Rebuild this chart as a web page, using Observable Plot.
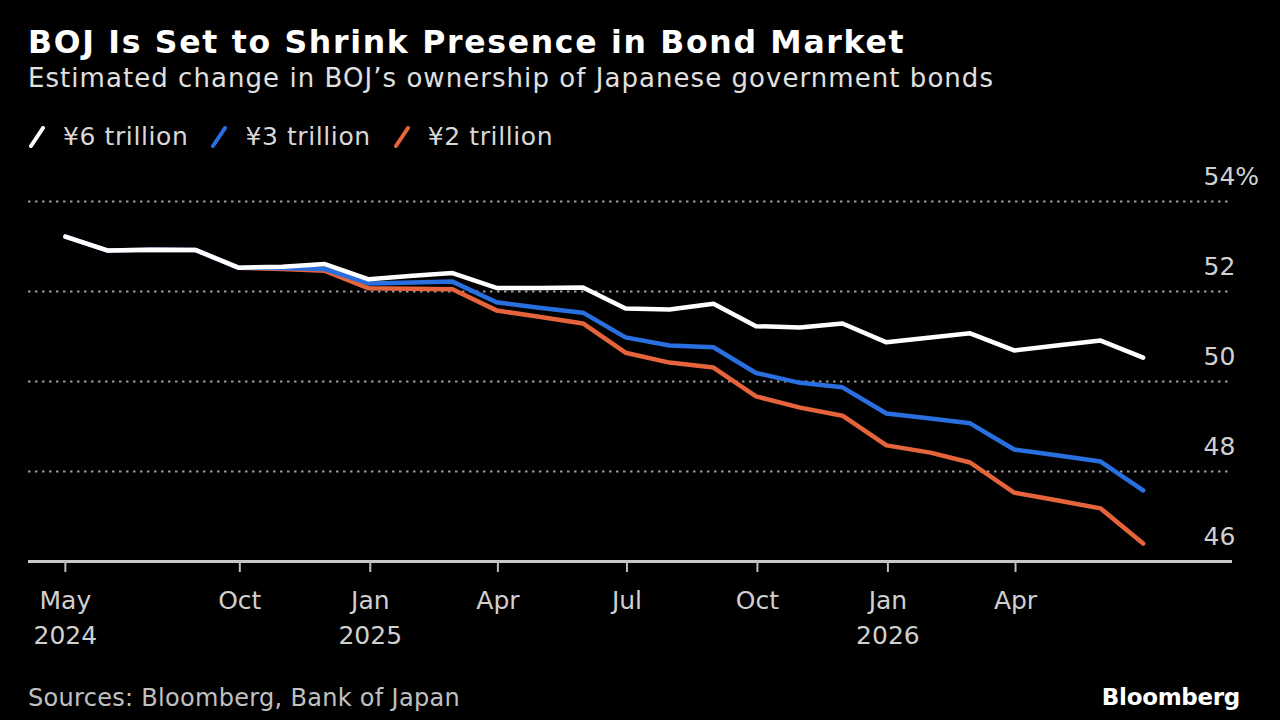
<!DOCTYPE html>
<html>
<head>
<meta charset="utf-8">
<script src="https://cdn.jsdelivr.net/npm/d3@7"></script>
<script src="https://cdn.jsdelivr.net/npm/@observablehq/plot@0.6"></script>
<style>
  html, body { margin: 0; padding: 0; background: #000; }
  #page { position: relative; width: 1280px; height: 720px; background: #000; overflow: hidden; font-family: "DejaVu Sans", sans-serif; }
  .abs { position: absolute; white-space: nowrap; line-height: 1; }
  #title { left: 28px; top: 27px; font-weight: bold; font-size: 31.5px; letter-spacing: 1.7px; color: #fff; }
  #subtitle { left: 28px; top: 65px; font-size: 26px; letter-spacing: 1.05px; color: #e0e0e0; }
  #legend { left: 28px; top: 124px; font-size: 25px; letter-spacing: 0.6px; color: #d8d8d8; display: flex; align-items: center; }
  .item { display: flex; align-items: center; margin-right: 22px; }
  .item svg { margin-right: 17px; }
  #chart { position: absolute; left: 0; top: 150px; }
  #source { left: 28px; top: 686px; font-size: 24px; letter-spacing: 0.3px; color: #c0c0c0; }
  #brand { right: 40px; top: 686px; font-size: 23px; letter-spacing: -0.3px; font-weight: bold; color: #fff; }
</style>
</head>
<body>
<div id="page">
  <div id="title" class="abs">BOJ Is Set to Shrink Presence in Bond Market</div>
  <div id="subtitle" class="abs">Estimated change in BOJ’s ownership of Japanese government bonds</div>
  <div id="legend" class="abs"></div>
  <div id="chart"></div>
  <div id="source" class="abs">Sources: Bloomberg, Bank of Japan</div>
  <div id="brand" class="abs">Bloomberg</div>
</div>
<script>
const dates = ["2024-05-31","2024-06-30","2024-07-31","2024-08-31","2024-09-30","2024-10-31","2024-11-30","2024-12-31",
  "2025-01-31","2025-02-28","2025-03-31","2025-04-30","2025-05-31","2025-06-30","2025-07-31","2025-08-31","2025-09-30",
  "2025-10-31","2025-11-30","2025-12-31","2026-01-31","2026-02-28","2026-03-31","2026-04-30","2026-05-31","2026-06-30"];
const sixTrillion = [53.22,52.91,52.93,52.92,52.53,52.55,52.61,52.27,52.35,52.41,52.08,52.08,52.09,51.62,51.60,51.73,51.23,
  51.20,51.29,50.87,50.98,51.07,50.69,50.80,50.91,50.53];
const threeTrillion = [53.22,52.91,52.93,52.92,52.53,52.52,52.50,52.18,52.20,52.22,51.76,51.64,51.53,50.98,50.80,50.76,50.19,
  49.97,49.87,49.29,49.18,49.07,48.49,48.36,48.22,47.58];
const twoTrillion = [53.22,52.91,52.93,52.92,52.53,52.50,52.46,52.07,52.06,52.05,51.58,51.44,51.29,50.64,50.42,50.31,49.67,
  49.42,49.24,48.58,48.42,48.20,47.53,47.36,47.18,46.40];
const seriesNames = ["¥6 trillion", "¥3 trillion", "¥2 trillion"];
const seriesColors = ["#ffffff", "#2a6fdf", "#e5643b"];
const xTickDates = ["2024-05-31","2024-10-01","2025-01-01","2025-04-01","2025-07-01","2025-10-01","2026-01-01","2026-04-01"];
const xTickLabels = ["May\n2024","Oct","Jan\n2025","Apr","Jul","Oct","Jan\n2026","Apr"];
const yTicks = [46, 48, 50, 52, 54];
const xDomain = ["2024-05-05", "2026-09-01"];
const yDomain = [46, 54];

const seriesValues = [sixTrillion, threeTrillion, twoTrillion];
const rows = [];
seriesNames.forEach((name, i) => {
  dates.forEach((d, j) => rows.push({date: new Date(d), value: seriesValues[i][j], series: name}));
});
const drawOrder = [2, 1, 0];

// legend
const legend = document.getElementById("legend");
seriesNames.forEach((name, i) => {
  const item = document.createElement("div");
  item.className = "item";
  item.innerHTML = `<svg width="18" height="22"><line x1="3" y1="20" x2="15" y2="2" stroke="${seriesColors[i]}" stroke-width="4" stroke-linecap="round"/></svg><span>${name}</span>`;
  legend.appendChild(item);
});

const tickDates = xTickDates.map(d => new Date(d));
const labelFor = new Map(tickDates.map((d, i) => [+d, xTickLabels[i]]));

const chart = Plot.plot({
  width: 1280,
  height: 510,
  marginTop: 51,
  marginBottom: 99,
  marginLeft: 28,
  marginRight: 48,
  style: {background: "transparent", fontFamily: "'DejaVu Sans', sans-serif"},
  x: {type: "utc", domain: xDomain.map(d => new Date(d))},
  y: {domain: yDomain},
  marks: [
    Plot.gridY(yTicks.filter(t => t !== 46), {stroke: "#9a9a9a", strokeOpacity: 1, strokeWidth: 2, strokeDasharray: "2.5,4.5"}),
    Plot.ruleY([46], {stroke: "#c8c8c8", strokeWidth: 3}),
    Plot.axisY(yTicks, {
      anchor: "right", tickSize: 0, tickPadding: 0, dx: -29, dy: -25, textAnchor: "start",
      fontSize: 25, fill: "#d0d0d0", label: null,
      tickFormat: d => d === 54 ? d + "%" : String(d)
    }),
    Plot.axisX(tickDates, {
      anchor: "bottom", tickSize: 11, tickPadding: 12, stroke: "#bdbdbd", strokeWidth: 2,
      fontSize: 25, fill: "#d0d0d0", lineHeight: 1.4, label: null,
      tickFormat: d => labelFor.get(+d)
    }),
    ...drawOrder.map(i => Plot.line(rows.filter(r => r.series === seriesNames[i]), {
      x: "date", y: "value", stroke: seriesColors[i], strokeWidth: 4.5, strokeLinejoin: "round", strokeLinecap: "round"
    }))
  ]
});
document.getElementById("chart").appendChild(chart);
</script>
</body>
</html>
